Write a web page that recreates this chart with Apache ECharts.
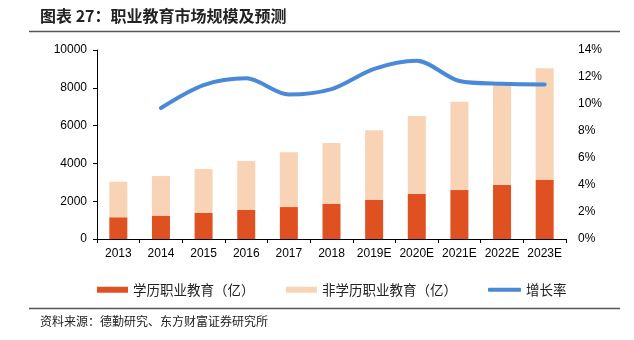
<!DOCTYPE html>
<html><head><meta charset="utf-8">
<script src="https://cdn.jsdelivr.net/npm/echarts@6/dist/echarts.min.js"></script>
<style>html,body{margin:0;padding:0;background:#fff}#c{width:634px;height:340px}</style>
</head><body><div id="c"></div>
<script>
const categories = ['2013','2014','2015','2016','2017','2018','2019E','2020E','2021E','2022E','2023E'];
const degreeEdu = [1150,1235,1375,1535,1690,1870,2080,2380,2590,2860,3120];
const nonDegreeEdu = [1880,2095,2325,2595,2900,3210,3670,4130,4675,5270,5910];
const growthRate = [null,9.7,11.4,11.9,10.7,11.1,12.6,13.2,11.7,11.5,11.45];
const leftTicks = {min:0,max:10000,interval:2000};
const rightTicks = {min:0,max:14,interval:2};

const cjk = '"Noto Sans CJK SC", sans-serif';
const num = '"Liberation Sans", Arial, sans-serif';
const chart = echarts.init(document.getElementById('c'), null, {renderer:'canvas'});
chart.setOption({
  animation:false,
  grid:{left:97,right:68,top:50,bottom:101},
  graphic:[
    {type:'text',left:40,top:8,style:{text:'图表 27：职业教育市场规模及预测',font:'bold 16px '+cjk,fill:'#222'}},
    {type:'line',shape:{x1:29,y1:31.5,x2:620,y2:31.5},style:{stroke:'#555',lineWidth:1.5}},
    {type:'line',shape:{x1:29,y1:308.5,x2:620,y2:308.5},style:{stroke:'#555',lineWidth:1.5}},
    {type:'text',left:40,top:315,style:{text:'资料来源：德勤研究、东方财富证券研究所',font:'12px '+cjk,fill:'#222'}}
  ],
  legend:[
    {left:92,top:278,itemWidth:31,itemHeight:6,icon:'rect',itemGap:5,data:['学历职业教育（亿）'],textStyle:{fontFamily:cjk,fontSize:13.5,color:'#222'}},
    {left:281,top:278,itemWidth:31,itemHeight:6,icon:'rect',data:['非学历职业教育（亿）'],textStyle:{fontFamily:cjk,fontSize:13.5,color:'#222'}},
    {left:483,top:278,itemWidth:33,itemHeight:4,icon:'roundRect',data:['增长率'],textStyle:{fontFamily:cjk,fontSize:13.5,color:'#222'}}
  ],
  xAxis:{type:'category',data:categories,
    axisLine:{lineStyle:{color:'#000',width:1}},
    axisTick:{show:true,lineStyle:{color:'#000'},length:4},
    axisLabel:{color:'#000',fontFamily:num,fontSize:12,margin:9,interval:0}},
  yAxis:[
    {type:'value',min:leftTicks.min,max:leftTicks.max,interval:leftTicks.interval,
      splitLine:{show:false},
      axisLine:{show:true,lineStyle:{color:'#000'}},
      axisTick:{show:true,length:4,lineStyle:{color:'#000'}},
      axisLabel:{color:'#000',fontFamily:num,fontSize:12,margin:10,formatter:function(v){return String(v);}}},
    {type:'value',min:rightTicks.min,max:rightTicks.max,interval:rightTicks.interval,position:'right',
      splitLine:{show:false},axisLine:{show:false},axisTick:{show:false},
      axisLabel:{color:'#000',fontFamily:num,fontSize:12,margin:12,formatter:'{value}%'}}
  ],
  series:[
    {name:'学历职业教育（亿）',type:'bar',stack:'a',data:degreeEdu,barWidth:18,itemStyle:{color:'#DF5120'}},
    {name:'非学历职业教育（亿）',type:'bar',stack:'a',data:nonDegreeEdu,barWidth:18,itemStyle:{color:'#F9D3B5'}},
    {name:'增长率',type:'line',yAxisIndex:1,data:growthRate,smooth:0.3,showSymbol:false,symbol:'none',
      lineStyle:{color:'#4A88D8',width:4,cap:'round'},itemStyle:{color:'#4A88D8'}}
  ]
});
</script></body></html>
